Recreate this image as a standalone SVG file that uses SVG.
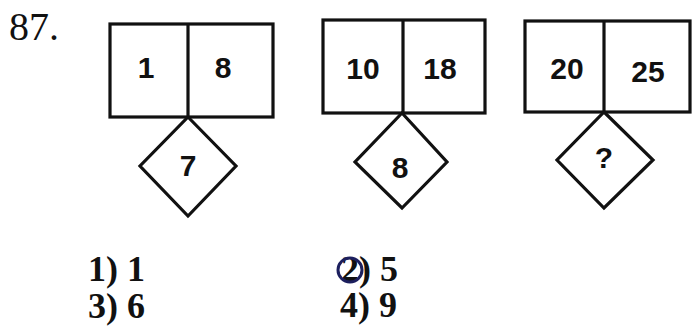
<svg xmlns="http://www.w3.org/2000/svg" width="699" height="336" viewBox="0 0 699 336">
<style>
.box{fill:none;stroke:#111;stroke-width:3.2;stroke-linejoin:miter}
.num{font-family:"Liberation Sans",Arial,sans-serif;font-weight:bold;font-size:30px;fill:#111;text-anchor:middle}
.opt{font-family:"Liberation Serif","Times New Roman",serif;font-weight:bold;font-size:36px;fill:#111}
</style>
<rect width="699" height="336" fill="#fff"/>
<text x="9" y="40" font-family="Liberation Serif,'Times New Roman',serif" font-size="40" fill="#111">87.</text>
<g id="connectors"></g>
<g id="group1">
<rect class="box" x="110" y="24" width="163" height="93"/>
<line class="box" x1="188" y1="24" x2="188" y2="117"/>
<text class="num" x="146" y="78">1</text>
<text class="num" x="223" y="78">8</text>
</g>
<g id="diamond1">
<polygon class="box" points="188,117 236,166 188,216 140,166"/>
<text class="num" x="188" y="176">7</text>
</g>
<g id="group2">
<rect class="box" x="323" y="20" width="162" height="93"/>
<line class="box" x1="403" y1="20" x2="403" y2="113"/>
<text class="num" x="363" y="79">10</text>
<text class="num" x="440" y="79">18</text>
</g>
<g id="diamond2">
<polygon class="box" points="402,113 447,162 402,208 355,162"/>
<text class="num" x="400" y="178">8</text>
</g>
<g id="group3">
<rect class="box" x="525" y="21" width="165" height="91"/>
<line class="box" x1="604" y1="21" x2="604" y2="112"/>
<text class="num" x="567" y="79">20</text>
<text class="num" x="648" y="82">25</text>
</g>
<g id="diamond3">
<polygon class="box" points="604,112 653,160 604,208 557,160"/>
<text class="num" x="604" y="168" font-size="25">?</text>
</g>
<g id="options">
<text class="opt" x="88" y="281">1) 1</text>
<text class="opt" x="88" y="318">3) 6</text>
<text class="opt" x="341" y="281">2) 5</text>
<circle cx="350" cy="270" r="12" fill="none" stroke="#1c1f5e" stroke-width="3"/>
<text class="opt" x="340" y="317">4) 9</text>
</g>
</svg>
